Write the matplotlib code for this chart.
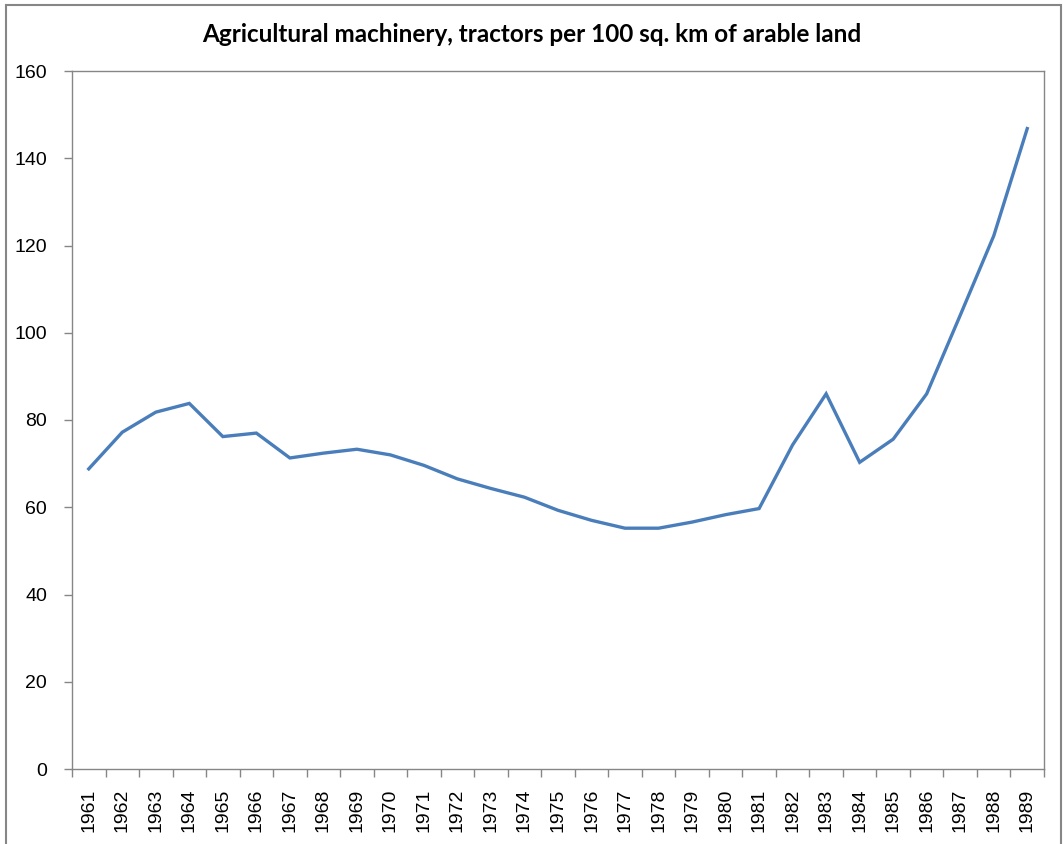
import matplotlib.pyplot as plt
import matplotlib.patches as patches
import numpy as np

# data
years = [str(y) for y in range(1961, 1990)]
tractors = [68.8, 77.2, 81.8, 83.8, 76.2, 77.0, 71.3, 72.4, 73.3, 72.0,
            69.6, 66.5, 64.3, 62.3, 59.3, 57.0, 55.2, 55.2, 56.6, 58.3,
            59.7, 74.3, 86.0, 70.3, 75.6, 86.0, 104.0, 122.2, 146.8]
yticks = [0, 20, 40, 60, 80, 100, 120, 140, 160]

title = "Agricultural machinery, tractors per 100 sq. km of arable land"

plt.rcParams['font.family'] = ['Liberation Sans', 'DejaVu Sans']

fig = plt.figure(figsize=(10.63, 8.44), dpi=100)
ax = fig.add_axes([72/1063, 75/844, 972/1063, 698/844])

x = np.arange(len(years))
ax.plot(x, tractors, color='#4A7EBB', linewidth=2.4, solid_joinstyle='miter')

ax.set_xlim(-0.5, len(years) - 0.5)
ax.set_ylim(0, 160)
ax.set_yticks(yticks)
ax.set_yticklabels([str(v) for v in yticks], fontsize=14)

# category labels centred, tick marks on category boundaries
ax.set_xticks(x)
ax.set_xticklabels(years, rotation=90, fontsize=14)
ax.set_xticks(np.arange(-0.5, len(years)), minor=True)
ax.tick_params(axis='x', which='major', length=0, pad=14)
ax.tick_params(axis='x', which='minor', length=6, color='#868686', width=1)
ax.tick_params(axis='y', length=6, color='#868686', width=1, pad=12)

for side in ['top', 'right', 'left', 'bottom']:
    ax.spines[side].set_color('#868686')
    ax.spines[side].set_linewidth(1)

fig.text(0.5, 1 - 34/844, title, ha='center', va='center', fontsize=17.5,
         fontweight='bold', family=['Lato', 'DejaVu Sans'])

# chart outer border
border = patches.Rectangle((6/1063, -0.02), 1055/1063, 1.02 - 5/844,
                           transform=fig.transFigure, fill=False,
                           edgecolor='#868686', linewidth=1.5, clip_on=False)
fig.patches.append(border)

fig.savefig('out.png', dpi=100)
